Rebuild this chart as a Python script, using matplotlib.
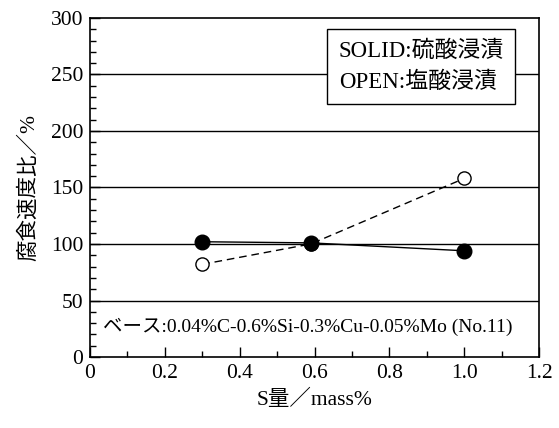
import matplotlib
matplotlib.use("Agg")
import matplotlib.pyplot as plt
from matplotlib.ticker import MultipleLocator

plt.rcParams['font.family'] = ['Liberation Serif', 'Noto Sans CJK JP']
plt.rcParams['font.size'] = 15.5

# S content vs. corrosion rate ratio
s_solid = [0.30, 0.59, 1.00]
rate_solid = [102, 101, 94]
s_open = [0.30, 0.59, 1.00]
rate_open = [82, 100, 158]

xticks = [0, 0.2, 0.4, 0.6, 0.8, 1.0, 1.2]
xticklabels = ['0', '0.2', '0.4', '0.6', '0.8', '1.0', '1.2']
yticks = [0, 50, 100, 150, 200, 250, 300]

fig = plt.figure(figsize=(5.59, 4.28), dpi=100)
ax = fig.add_axes([90/559, 1 - 357/428, 449/559, 339/428])

for y in yticks[1:-1]:
    ax.axhline(y, color='black', lw=1.0, zorder=1)

ax.plot(s_open, rate_open, '--', color='black', lw=1.0, dashes=(5.5, 3.5),
        marker='o', ms=9.5, mfc='white', mec='black', mew=1.0, zorder=3)
ax.plot(s_solid, rate_solid, '-', color='black', lw=1.0,
        marker='o', ms=10.5, mfc='black', mec='black', zorder=4)

ax.set_xlim(0, 1.2)
ax.set_ylim(0, 300)
ax.set_xticks(xticks)
ax.set_xticklabels(xticklabels)
ax.set_yticks(yticks)
ax.xaxis.set_minor_locator(MultipleLocator(0.1))
ax.yaxis.set_minor_locator(MultipleLocator(10))
ax.tick_params(which='both', direction='in', top=False, right=False, width=1.0)
ax.tick_params(which='major', length=7, pad=5)
ax.tick_params(which='minor', length=4)
for s in ax.spines.values():
    s.set_linewidth(1.2)

ax.set_xlabel('S量／mass%', labelpad=5)
ax.set_ylabel('腐食速度比／%', labelpad=8)

ax.text(0.665, 280, 'SOLID:硫酸浸漬\nOPEN:塩酸浸漬', ha='left', va='top',
        fontsize=16.5, linespacing=1.55, zorder=5,
        bbox=dict(boxstyle='square,pad=0.5', fc='white', ec='black', lw=1.0))
ax.text(0.035, 27, 'ベース:0.04%C-0.6%Si-0.3%Cu-0.05%Mo (No.11)',
        ha='left', va='center', fontsize=14, zorder=5)

fig.savefig('out.png', dpi=100)
